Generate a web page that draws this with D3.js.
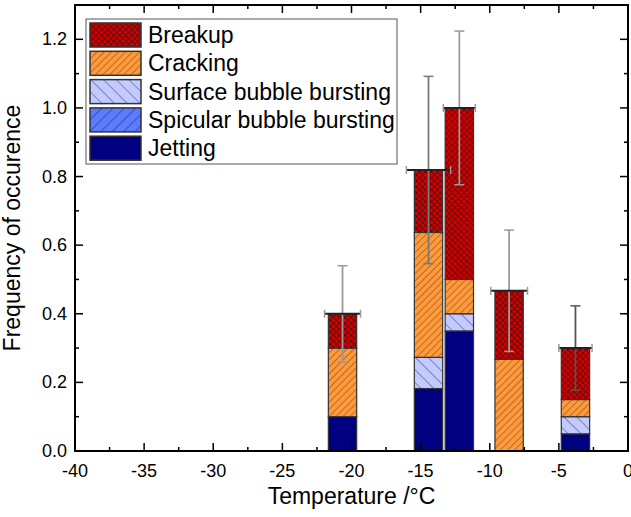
<!DOCTYPE html>
<html>
<head>
<meta charset="utf-8">
<script src="https://cdn.jsdelivr.net/npm/d3@7"></script>
<style>
  body { margin: 0; background: #fff; }
  text { font-family: "Liberation Sans", Arial, sans-serif; fill: #000; }
</style>
</head>
<body>
<div id="vis"></div>
<script>
// data
const temps    = [-20.65, -14.43, -12.2, -8.6, -3.8];
const jetting  = [0.10, 0.182, 0.35, 0.0, 0.05];
const spicular = [0.0, 0.0, 0.0, 0.0, 0.0];
const surface  = [0.0, 0.091, 0.05, 0.0, 0.05];
const cracking = [0.20, 0.364, 0.10, 0.267, 0.05];
const breakup  = [0.10, 0.182, 0.50, 0.20, 0.15];
const yErr = [0.14, 0.273, 0.224, 0.177, 0.123];
const xErr = [1.3, 1.6, 1.16, 1.33, 1.2];

const xTicks = [-40, -35, -30, -25, -20, -15, -10, -5, 0];
const yTicks = [0.0, 0.2, 0.4, 0.6, 0.8, 1.0, 1.2];

// series, bottom of stack first
const seriesNames = ["Jetting", "Spicular bubble bursting", "Surface bubble bursting", "Cracking", "Breakup"];
const seriesVals = [jetting, spicular, surface, cracking, breakup];
const legendOrder = ["Breakup", "Cracking", "Surface bubble bursting", "Spicular bubble bursting", "Jetting"];

// error bar line colours (style only)
const errColors = ['#9a9a9a', '#7a7a7a', '#9a9a9a', '#9a9a9a', '#555'];

const W = 631, H = 517;
const margin = { top: 5, right: 3, bottom: 66, left: 75 };
const width = W - margin.left - margin.right;
const height = H - margin.top - margin.bottom;
const barW = 2.05; // in degrees

const svg = d3.select('#vis').append('svg')
  .attr('width', W).attr('height', H);

const defs = svg.append('defs');

// hatch patterns
function hatch(id, bg, angles, step, sw, col) {
  const p = defs.append('pattern')
    .attr('id', id)
    .attr('patternUnits', 'userSpaceOnUse')
    .attr('width', step).attr('height', step)
    .attr('patternTransform', `rotate(${angles[0]})`);
  p.append('rect').attr('width', step).attr('height', step).attr('fill', bg);
  p.append('line').attr('x1', 0).attr('y1', 0).attr('x2', 0).attr('y2', step)
    .attr('stroke', col).attr('stroke-width', sw);
  if (angles.length > 1) {
    p.append('line').attr('x1', 0).attr('y1', 0).attr('x2', step).attr('y2', 0)
      .attr('stroke', col).attr('stroke-width', sw);
  }
}
hatch('pBreak', '#d00000', [45, 1], 4.2, 1.1, '#3a0000');
hatch('pCrack', '#ff9a3c', [45], 5, 0.8, '#4a2a00');
hatch('pSurf', '#c3caff', [-45], 9, 0.8, '#1a1a40');
hatch('pSpic', '#5c7cff', [45], 8, 0.8, '#101040');

const fills = {
  "Breakup": "url(#pBreak)",
  "Cracking": "url(#pCrack)",
  "Surface bubble bursting": "url(#pSurf)",
  "Spicular bubble bursting": "url(#pSpic)",
  "Jetting": "#000080"
};

const g = svg.append('g').attr('transform', `translate(${margin.left},${margin.top})`);

const x = d3.scaleLinear().domain([-40, 0]).range([0, width]);
const y = d3.scaleLinear().domain([0, 1.3]).range([height, 0]);

// stacked bars
const rows = temps.map((t, i) => {
  const r = { t: t };
  seriesNames.forEach((n, k) => r[n] = seriesVals[k][i]);
  return r;
});
const stack = d3.stack().keys(seriesNames)(rows);

g.selectAll('.layer')
  .data(stack)
  .join('g')
  .attr('class', 'layer')
  .attr('fill', d => fills[d.key])
  .selectAll('rect')
  .data(d => d.filter(s => s[1] - s[0] > 0))
  .join('rect')
  .attr('x', d => x(d.data.t - barW / 2))
  .attr('width', d => x(d.data.t + barW / 2) - x(d.data.t - barW / 2))
  .attr('y', d => y(d[1]))
  .attr('height', d => y(d[0]) - y(d[1]))
  .attr('stroke', '#333')
  .attr('stroke-width', 1.2);

// error bars
const totals = rows.map((r, i) => d3.sum(seriesVals, s => s[i]));
const eb = g.selectAll('.err')
  .data(temps.map((t, i) => ({ t: t, v: totals[i], ye: yErr[i], xe: xErr[i], c: errColors[i] })))
  .join('g')
  .attr('class', 'err');

eb.append('line')
  .attr('x1', d => x(d.t)).attr('x2', d => x(d.t))
  .attr('y1', d => y(d.v - d.ye)).attr('y2', d => y(d.v + d.ye))
  .attr('stroke', d => d.c).attr('stroke-width', 1.8);
eb.selectAll('.cap')
  .data(d => [d.v - d.ye, d.v + d.ye].map(v => ({ t: d.t, v: v, c: d.c })))
  .join('line')
  .attr('x1', d => x(d.t) - 5).attr('x2', d => x(d.t) + 5)
  .attr('y1', d => y(d.v)).attr('y2', d => y(d.v))
  .attr('stroke', d => d.c).attr('stroke-width', 1.5);
eb.append('line')
  .attr('x1', d => x(d.t - d.xe)).attr('x2', d => x(d.t + d.xe))
  .attr('y1', d => y(d.v)).attr('y2', d => y(d.v))
  .attr('stroke', '#222').attr('stroke-width', 2);
eb.selectAll('.xcap')
  .data(d => [d.t - d.xe, d.t + d.xe].map(t => ({ t: t, v: d.v })))
  .join('line')
  .attr('x1', d => x(d.t)).attr('x2', d => x(d.t))
  .attr('y1', d => y(d.v) - 4).attr('y2', d => y(d.v) + 4)
  .attr('stroke', '#999').attr('stroke-width', 1.5);

// axes with inward ticks, mirrored on top/right
const xMinor = d3.range(-37.5, 0, 5);
const yMinor = d3.range(0.1, 1.3, 0.2);

function axisX(gg, yPos, dir) {
  gg.selectAll('.maj').data(xTicks).join('line')
    .attr('x1', d => x(d)).attr('x2', d => x(d))
    .attr('y1', yPos).attr('y2', yPos - dir * 8)
    .attr('stroke', '#000').attr('stroke-width', 1.5);
  gg.selectAll('.min').data(xMinor).join('line').attr('class', 'min')
    .attr('x1', d => x(d)).attr('x2', d => x(d))
    .attr('y1', yPos).attr('y2', yPos - dir * 4)
    .attr('stroke', '#000').attr('stroke-width', 1.5);
}
function axisY(gg, xPos, dir) {
  gg.selectAll('.maj').data(yTicks).join('line')
    .attr('y1', d => y(d)).attr('y2', d => y(d))
    .attr('x1', xPos).attr('x2', xPos + dir * 8)
    .attr('stroke', '#000').attr('stroke-width', 1.5);
  gg.selectAll('.min').data(yMinor).join('line').attr('class', 'min')
    .attr('y1', d => y(d)).attr('y2', d => y(d))
    .attr('x1', xPos).attr('x2', xPos + dir * 4)
    .attr('stroke', '#000').attr('stroke-width', 1.5);
}
axisX(g.append('g'), height, 1);
axisX(g.append('g'), 0, -1);
axisY(g.append('g'), 0, 1);
axisY(g.append('g'), width, -1);

g.append('rect')
  .attr('width', width).attr('height', height)
  .attr('fill', 'none').attr('stroke', '#000').attr('stroke-width', 2);

g.selectAll('.xl').data(xTicks).join('text')
  .attr('x', d => x(d)).attr('y', height + 26)
  .attr('text-anchor', 'middle').style('font-size', '18px')
  .text(d => String(d));
g.selectAll('.yl').data(yTicks).join('text')
  .attr('x', -8).attr('y', d => y(d) + 6)
  .attr('text-anchor', 'end').style('font-size', '18px')
  .text(d => d.toFixed(1));

svg.append('text')
  .attr('x', margin.left + width / 2).attr('y', 504)
  .attr('text-anchor', 'middle').style('font-size', '23px')
  .text('Temperature /°C');
svg.append('text')
  .attr('transform', `translate(20,${margin.top + height / 2}) rotate(-90)`)
  .attr('text-anchor', 'middle').style('font-size', '23px')
  .text('Frequency of occurence');

// legend
const lg = svg.append('g').attr('transform', 'translate(86,19)');
lg.append('rect').attr('width', 311).attr('height', 145)
  .attr('fill', '#fff').attr('stroke', '#555').attr('stroke-width', 1);
const li = lg.selectAll('.li').data(legendOrder).join('g')
  .attr('transform', (d, i) => `translate(4,${4 + i * 28.3})`);
li.append('rect').attr('width', 51).attr('height', 24)
  .attr('fill', d => fills[d]).attr('stroke', '#333').attr('stroke-width', 1.5);
li.append('text').attr('x', 58).attr('y', 20)
  .style('font-size', '23px').text(d => d);
</script>
</body>
</html>
